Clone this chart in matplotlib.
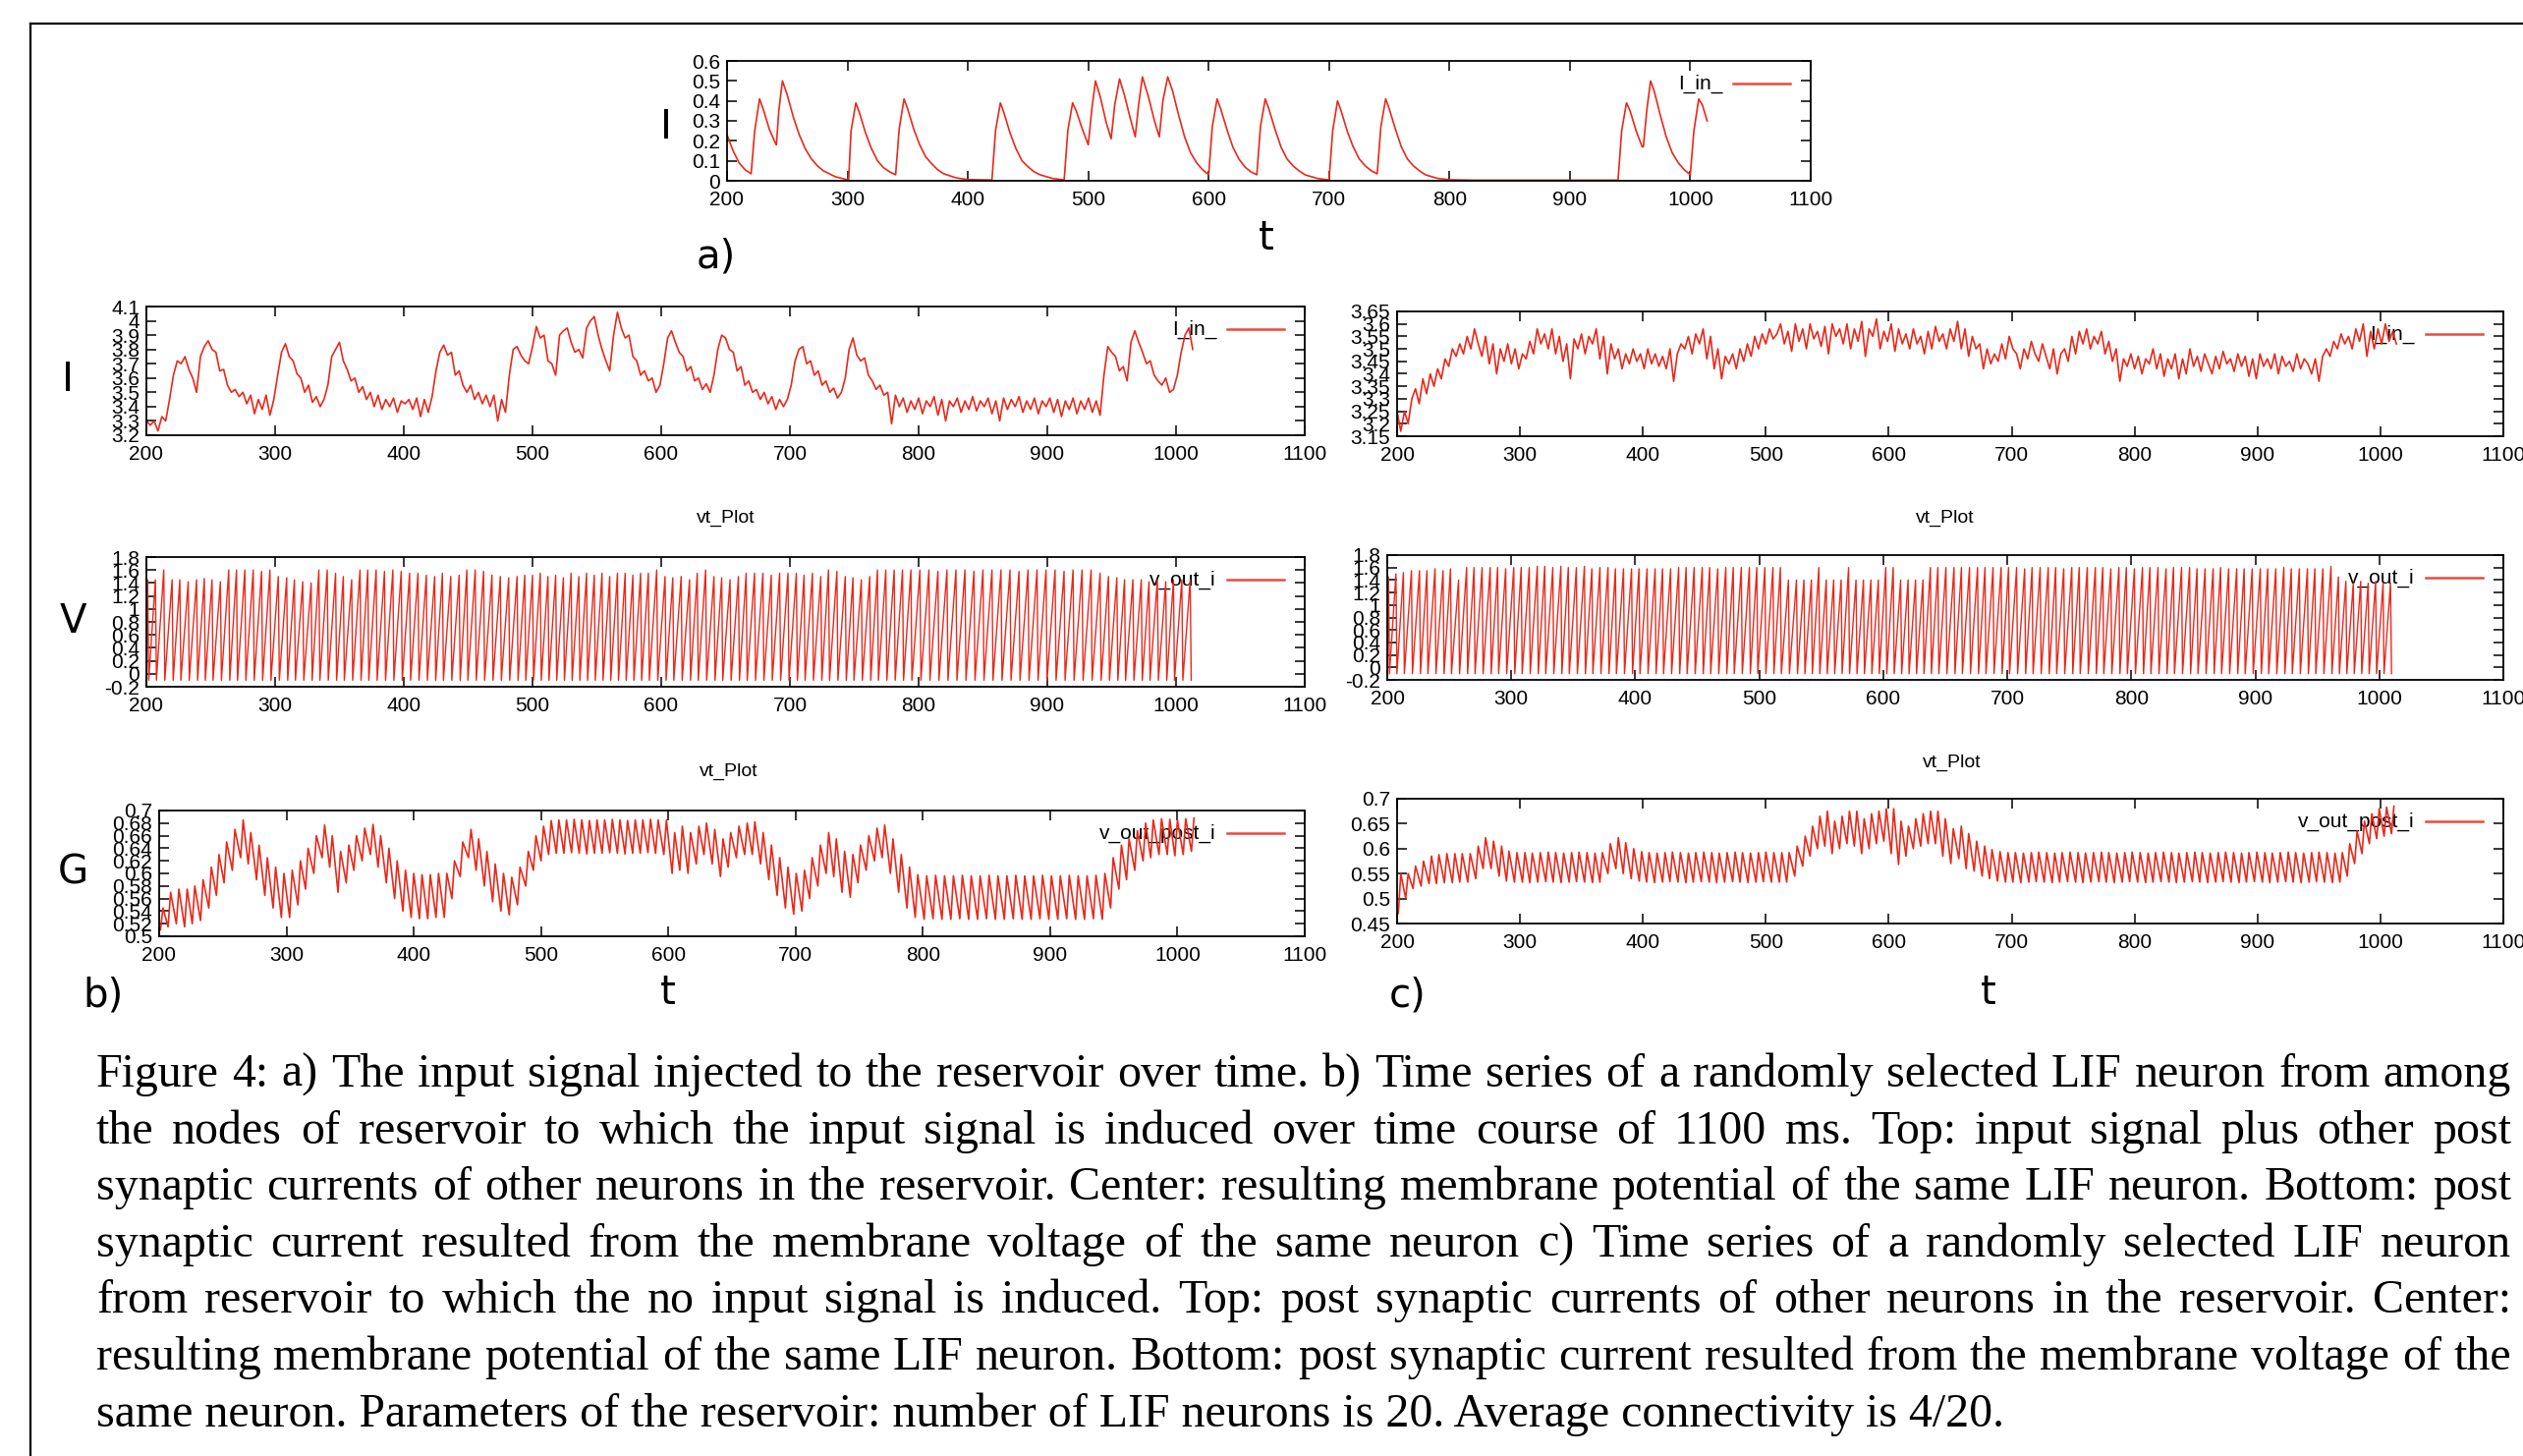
import matplotlib
matplotlib.use("Agg")
import matplotlib.pyplot as plt
from matplotlib.lines import Line2D
from matplotlib.ticker import FuncFormatter

W, H = 2568, 1482
RED = "#e8291c"
SANS = ["Liberation Sans", "DejaVu Sans"]
SERIF = ["Liberation Serif", "DejaVu Serif"]

# ---------------------------------------------------------------- data
XTICKS = [200, 300, 400, 500, 600, 700, 800, 900, 1000, 1100]

# a) injected input current, vertices (t, I)
IN_T = [200, 205, 210, 215, 220, 223, 227, 230, 235, 240, 241, 243, 246, 250, 255, 260, 265, 270, 275, 280,
        290, 300, 301, 303, 307, 310, 315, 320, 325, 330, 335, 340, 343, 347, 350, 355, 360, 365, 370, 375,
        380, 390, 400, 420, 423, 427, 430, 435, 440, 445, 450, 455, 460, 470, 480, 483, 487, 490, 495, 500,
        503, 506, 510, 515, 519, 522, 526, 530, 535, 539, 542, 545, 550, 555, 559, 562, 566, 570, 575, 580,
        585, 590, 595, 600, 603, 607, 610, 615, 620, 625, 630, 635, 640, 643, 647, 650, 655, 660, 665, 670,
        675, 680, 690, 700, 703, 707, 710, 715, 720, 725, 730, 735, 740, 743, 747, 750, 755, 760, 765, 770,
        775, 780, 790, 800, 820, 940, 943, 947, 950, 955, 960, 961, 964, 967, 970, 975, 980, 985, 990, 995,
        1000, 1003, 1007, 1010, 1014]
IN_V = [0.23, 0.15, 0.09, 0.055, 0.035, 0.25, 0.41, 0.36, 0.26, 0.19, 0.18, 0.35, 0.50, 0.43, 0.32, 0.23, 0.16, 0.11, 0.075, 0.05,
        0.02, 0.005, 0.005, 0.25, 0.39, 0.34, 0.24, 0.16, 0.10, 0.065, 0.045, 0.03, 0.26, 0.41, 0.36, 0.26, 0.18, 0.12, 0.085, 0.055,
        0.035, 0.015, 0.006, 0.004, 0.25, 0.39, 0.34, 0.24, 0.16, 0.10, 0.07, 0.045, 0.03, 0.012, 0.004, 0.25, 0.39, 0.35, 0.26, 0.18,
        0.36, 0.50, 0.42, 0.29, 0.21, 0.38, 0.51, 0.43, 0.31, 0.22, 0.39, 0.52, 0.42, 0.30, 0.22, 0.40, 0.52, 0.45, 0.33, 0.22,
        0.14, 0.09, 0.055, 0.03, 0.27, 0.41, 0.36, 0.26, 0.17, 0.11, 0.07, 0.045, 0.03, 0.27, 0.41, 0.36, 0.26, 0.17, 0.11, 0.075,
        0.05, 0.03, 0.012, 0.004, 0.25, 0.40, 0.35, 0.25, 0.17, 0.11, 0.075, 0.05, 0.035, 0.27, 0.41, 0.36, 0.26, 0.17, 0.11, 0.075,
        0.05, 0.03, 0.012, 0.005, 0.003, 0.003, 0.25, 0.39, 0.35, 0.25, 0.17, 0.17, 0.36, 0.50, 0.45, 0.33, 0.22, 0.14, 0.09, 0.055,
        0.03, 0.25, 0.41, 0.38, 0.30]

# total current seen by the neuron, sampled every 3 ms from t = 200
I_STEP = 3
IB = [3.30, 3.27, 3.30, 3.23, 3.33, 3.30, 3.45, 3.62, 3.72, 3.70,
      3.75, 3.66, 3.60, 3.50, 3.75, 3.82, 3.86, 3.80, 3.78, 3.65,
      3.66, 3.55, 3.50, 3.52, 3.47, 3.50, 3.42, 3.48, 3.35, 3.45,
      3.38, 3.48, 3.34, 3.45, 3.62, 3.78, 3.84, 3.75, 3.72, 3.63,
      3.60, 3.50, 3.55, 3.43, 3.47, 3.40, 3.45, 3.55, 3.75, 3.80,
      3.85, 3.72, 3.66, 3.58, 3.60, 3.50, 3.54, 3.45, 3.50, 3.40,
      3.48, 3.38, 3.45, 3.40, 3.46, 3.36, 3.44, 3.42, 3.45, 3.38,
      3.46, 3.33, 3.45, 3.36, 3.47, 3.65, 3.78, 3.83, 3.76, 3.78,
      3.62, 3.65, 3.55, 3.50, 3.55, 3.45, 3.50, 3.42, 3.48, 3.40,
      3.48, 3.30, 3.45, 3.36, 3.62, 3.80, 3.82, 3.76, 3.72, 3.70,
      3.82, 3.96, 3.88, 3.90, 3.72, 3.70, 3.62, 3.90, 3.93, 3.95,
      3.85, 3.78, 3.80, 3.74, 3.95, 4.00, 4.03, 3.90, 3.80, 3.72,
      3.65, 3.90, 4.06, 3.95, 3.88, 3.90, 3.75, 3.72, 3.62, 3.65,
      3.58, 3.60, 3.50, 3.55, 3.70, 3.88, 3.93, 3.85, 3.78, 3.75,
      3.65, 3.68, 3.58, 3.60, 3.52, 3.56, 3.50, 3.62, 3.80, 3.90,
      3.88, 3.80, 3.78, 3.65, 3.68, 3.55, 3.58, 3.50, 3.52, 3.45,
      3.50, 3.42, 3.47, 3.38, 3.45, 3.40, 3.45, 3.55, 3.72, 3.80,
      3.82, 3.70, 3.72, 3.62, 3.65, 3.55, 3.58, 3.50, 3.53, 3.46,
      3.50, 3.60, 3.80, 3.88, 3.76, 3.72, 3.74, 3.62, 3.58, 3.52,
      3.55, 3.48, 3.50, 3.28, 3.48, 3.40, 3.46, 3.36, 3.44, 3.38,
      3.46, 3.35, 3.44, 3.40, 3.47, 3.34, 3.45, 3.30, 3.44, 3.40,
      3.46, 3.36, 3.44, 3.38, 3.47, 3.37, 3.44, 3.40, 3.46, 3.35,
      3.44, 3.30, 3.46, 3.38, 3.45, 3.40, 3.47, 3.36, 3.44, 3.38,
      3.46, 3.35, 3.44, 3.40, 3.46, 3.36, 3.45, 3.33, 3.44, 3.38,
      3.46, 3.35, 3.44, 3.38, 3.46, 3.36, 3.44, 3.34, 3.62, 3.82,
      3.78, 3.75, 3.65, 3.68, 3.58, 3.85, 3.93, 3.85, 3.78, 3.70,
      3.72, 3.62, 3.58, 3.55, 3.60, 3.50, 3.52, 3.62, 3.78, 3.90,
      3.95, 3.80]
IC = [3.25, 3.17, 3.25, 3.20, 3.30, 3.34, 3.28, 3.38, 3.32, 3.40,
      3.35, 3.42, 3.38, 3.46, 3.43, 3.50, 3.47, 3.52, 3.48, 3.55,
      3.50, 3.58, 3.52, 3.47, 3.55, 3.44, 3.52, 3.40, 3.50, 3.45,
      3.52, 3.44, 3.50, 3.42, 3.48, 3.46, 3.53, 3.48, 3.58, 3.52,
      3.56, 3.50, 3.58, 3.48, 3.55, 3.45, 3.52, 3.38, 3.54, 3.50,
      3.56, 3.48, 3.55, 3.52, 3.58, 3.46, 3.55, 3.40, 3.52, 3.46,
      3.50, 3.42, 3.48, 3.44, 3.50, 3.45, 3.48, 3.42, 3.50, 3.44,
      3.48, 3.43, 3.47, 3.42, 3.50, 3.37, 3.48, 3.52, 3.50, 3.55,
      3.48, 3.56, 3.52, 3.58, 3.46, 3.55, 3.42, 3.50, 3.38, 3.47,
      3.44, 3.48, 3.42, 3.50, 3.45, 3.52, 3.47, 3.55, 3.50, 3.56,
      3.52, 3.58, 3.54, 3.56, 3.60, 3.52, 3.57, 3.49, 3.60, 3.53,
      3.58, 3.50, 3.60, 3.54, 3.57, 3.51, 3.59, 3.48, 3.60, 3.55,
      3.58, 3.52, 3.60, 3.50, 3.58, 3.53, 3.61, 3.47, 3.58, 3.55,
      3.62, 3.50, 3.57, 3.53, 3.60, 3.49, 3.58, 3.52, 3.56, 3.50,
      3.58, 3.52, 3.55, 3.48, 3.57, 3.50, 3.59, 3.53, 3.56, 3.50,
      3.58, 3.53, 3.61, 3.50, 3.58, 3.47, 3.55, 3.50, 3.52, 3.42,
      3.50, 3.44, 3.48, 3.45, 3.52, 3.46, 3.55, 3.50, 3.48, 3.42,
      3.50, 3.46, 3.53, 3.48, 3.45, 3.52, 3.47, 3.42, 3.50, 3.40,
      3.48, 3.50, 3.45, 3.55, 3.48, 3.57, 3.52, 3.58, 3.50, 3.55,
      3.52, 3.57, 3.48, 3.53, 3.45, 3.50, 3.37, 3.46, 3.43, 3.48,
      3.42, 3.47, 3.40, 3.46, 3.44, 3.50, 3.42, 3.48, 3.39, 3.46,
      3.42, 3.48, 3.38, 3.46, 3.40, 3.50, 3.43, 3.47, 3.41, 3.48,
      3.44, 3.40, 3.47, 3.42, 3.49, 3.44, 3.46, 3.41, 3.48, 3.43,
      3.47, 3.39, 3.46, 3.38, 3.48, 3.43, 3.46, 3.42, 3.48, 3.40,
      3.47, 3.43, 3.45, 3.41, 3.48, 3.42, 3.46, 3.44, 3.40, 3.46,
      3.37, 3.47, 3.50, 3.47, 3.53, 3.50, 3.56, 3.52, 3.55, 3.50,
      3.58, 3.53, 3.60, 3.47, 3.57, 3.50, 3.58, 3.52, 3.60, 3.53,
      3.57, 3.52]

# spike times of the neuron in b) and c)
SPK_B = [201, 207, 213.5, 220, 226, 232.5, 239, 245, 251, 257.5, 264, 270, 276.5, 283, 289.5, 296,
         302.5, 309, 315, 321.5, 328, 334, 340.5, 347, 353, 359.5, 366, 372, 378.5, 385, 391.5, 398,
         404.5, 411, 417.5, 424, 430, 436.5, 443, 449, 455.5, 462, 468.5, 475, 481.5, 488, 494,
         500, 506, 512, 518, 524, 530, 536, 542, 548, 554, 560, 566, 572, 578, 584, 590, 596.5,
         603, 609, 615.5, 622, 628, 634.5, 641, 647, 653.5, 660, 666, 672.5, 679, 685.5, 692, 698.5,
         705, 711, 717.5, 724, 730, 736.5, 743, 749, 755.5, 762, 768, 774.5, 781, 787.5, 794,
         801, 808, 815, 822, 829, 836, 843, 850, 857, 864, 871, 878, 885, 892, 899, 906, 913, 920, 927, 934,
         941, 947.5, 954, 960, 966.5, 973, 979, 985.5, 992, 998, 1004.5, 1011]
VPK_B = [1.45, 1.45, 1.60, 1.45, 1.45, 1.42, 1.45, 1.47, 1.45, 1.42, 1.60, 1.60, 1.60, 1.60, 1.58, 1.60,
         1.50, 1.48, 1.45, 1.42, 1.40, 1.60, 1.60, 1.55, 1.50, 1.45, 1.60, 1.60, 1.60, 1.58, 1.60, 1.58,
         1.55, 1.55, 1.52, 1.50, 1.55, 1.50, 1.52, 1.60, 1.60, 1.58, 1.52, 1.50, 1.48, 1.50, 1.52,
         1.52, 1.55, 1.50, 1.52, 1.48, 1.55, 1.50, 1.55, 1.52, 1.55, 1.50, 1.55, 1.55, 1.52, 1.55, 1.55, 1.60,
         1.50, 1.48, 1.50, 1.45, 1.55, 1.60, 1.50, 1.48, 1.45, 1.50, 1.55, 1.55, 1.55, 1.52, 1.55, 1.55,
         1.55, 1.52, 1.55, 1.50, 1.60, 1.58, 1.50, 1.48, 1.45, 1.50, 1.60, 1.60, 1.60, 1.60, 1.60,
         1.60, 1.60, 1.58, 1.60, 1.60, 1.60, 1.58, 1.60, 1.60, 1.60, 1.60, 1.58, 1.60, 1.60, 1.60, 1.60, 1.58, 1.60, 1.60, 1.60,
         1.55, 1.50, 1.48, 1.45, 1.45, 1.45, 1.42, 1.45, 1.42, 1.45, 1.45, 1.45]
GLO_B = [0.51, 0.515, 0.52, 0.515, 0.52, 0.525, 0.545, 0.565, 0.585, 0.605, 0.625, 0.615, 0.59, 0.565, 0.545, 0.53,
         0.53, 0.55, 0.575, 0.60, 0.625, 0.61, 0.57, 0.585, 0.605, 0.62, 0.63, 0.61, 0.585, 0.56, 0.54, 0.53,
         0.528, 0.528, 0.53, 0.53, 0.56, 0.595, 0.625, 0.605, 0.58, 0.555, 0.54, 0.534, 0.55, 0.58, 0.605,
         0.62, 0.63, 0.632, 0.632, 0.633, 0.632, 0.631, 0.632, 0.632, 0.633, 0.632, 0.631, 0.632, 0.632, 0.633, 0.632, 0.63,
         0.60, 0.605, 0.60, 0.615, 0.63, 0.615, 0.595, 0.61, 0.625, 0.63, 0.63, 0.615, 0.59, 0.565, 0.545, 0.535,
         0.54, 0.56, 0.58, 0.60, 0.595, 0.57, 0.562, 0.585, 0.605, 0.62, 0.625, 0.60, 0.57, 0.545, 0.53,
         0.527, 0.528, 0.527, 0.527, 0.528, 0.527, 0.527, 0.528, 0.527, 0.527, 0.528, 0.527, 0.527, 0.528, 0.527, 0.527, 0.528, 0.527, 0.527, 0.528,
         0.527, 0.545, 0.575, 0.59, 0.605, 0.62, 0.625, 0.63, 0.63, 0.628, 0.63, 0.635]
GHI_B = [0.545, 0.57, 0.575, 0.575, 0.58, 0.59, 0.61, 0.63, 0.65, 0.67, 0.685, 0.665, 0.645, 0.625, 0.61, 0.60,
         0.605, 0.62, 0.64, 0.66, 0.677, 0.66, 0.635, 0.645, 0.66, 0.672, 0.678, 0.66, 0.64, 0.62, 0.605, 0.60,
         0.598, 0.598, 0.60, 0.60, 0.62, 0.65, 0.67, 0.655, 0.635, 0.615, 0.60, 0.594, 0.61, 0.635, 0.66,
         0.675, 0.684, 0.685, 0.685, 0.686, 0.685, 0.684, 0.685, 0.685, 0.686, 0.685, 0.684, 0.685, 0.685, 0.686, 0.685, 0.685,
         0.665, 0.675, 0.665, 0.675, 0.68, 0.67, 0.655, 0.665, 0.675, 0.68, 0.682, 0.665, 0.645, 0.625, 0.61, 0.60,
         0.605, 0.625, 0.645, 0.665, 0.655, 0.635, 0.63, 0.645, 0.66, 0.672, 0.677, 0.655, 0.63, 0.61, 0.598,
         0.596, 0.597, 0.596, 0.596, 0.597, 0.596, 0.596, 0.597, 0.596, 0.596, 0.597, 0.596, 0.596, 0.597, 0.596, 0.596, 0.597, 0.596, 0.596, 0.597,
         0.60, 0.625, 0.645, 0.655, 0.668, 0.68, 0.685, 0.687, 0.686, 0.685, 0.687, 0.688]

SPK_C = [201, 207, 213, 219.5, 226, 232, 238.5, 245, 251, 257.5, 264, 270, 276.5, 283, 289, 295.5,
         302, 308, 314.5, 321, 327, 333.5, 340, 346, 352.5, 359, 365, 371.5, 378, 384, 390.5, 397,
         403, 409.5, 416, 422, 428.5, 435, 441, 447.5, 454, 460, 466.5, 473, 479, 485.5, 492, 498,
         504.5, 511, 517, 523.5, 530, 536, 542, 548, 554, 560, 566, 572, 578, 584, 590, 596,
         602, 608, 614, 620, 626, 632, 638, 644, 650.5, 657, 663, 669.5, 676, 682, 688.5, 695,
         701, 707.5, 714, 720, 726.5, 733, 739, 745.5, 752, 758, 764.5, 771, 777, 783.5, 790, 796,
         802.5, 809, 815, 821.5, 828, 834, 840.5, 847, 853, 859.5, 866, 872, 878.5, 885, 891, 897.5,
         904, 910, 916.5, 923, 929, 935.5, 942, 948, 954.5, 961, 967, 973, 979, 985, 991, 997, 1003, 1009]
VPK_C = [1.45, 1.50, 1.52, 1.55, 1.55, 1.55, 1.58, 1.55, 1.58, 1.40, 1.60, 1.60, 1.60, 1.60, 1.60, 1.58,
         1.60, 1.60, 1.60, 1.62, 1.62, 1.60, 1.62, 1.60, 1.60, 1.62, 1.58, 1.60, 1.60, 1.58, 1.58, 1.58,
         1.58, 1.58, 1.58, 1.58, 1.58, 1.60, 1.60, 1.60, 1.60, 1.60, 1.58, 1.60, 1.60, 1.60, 1.60, 1.60,
         1.60, 1.60, 1.60, 1.40, 1.40, 1.40, 1.40, 1.60, 1.40, 1.40, 1.40, 1.60, 1.40, 1.40, 1.40, 1.40,
         1.60, 1.60, 1.40, 1.40, 1.40, 1.40, 1.60, 1.60, 1.60, 1.60, 1.60, 1.60, 1.60, 1.60, 1.60, 1.60,
         1.60, 1.60, 1.58, 1.60, 1.60, 1.60, 1.60, 1.58, 1.60, 1.60, 1.60, 1.60, 1.60, 1.58, 1.60, 1.60,
         1.58, 1.60, 1.60, 1.60, 1.58, 1.60, 1.60, 1.60, 1.58, 1.58, 1.58, 1.60, 1.58, 1.58, 1.58, 1.58,
         1.58, 1.58, 1.58, 1.60, 1.58, 1.58, 1.58, 1.58, 1.58, 1.62, 1.45, 1.38, 1.35, 1.38, 1.35, 1.38, 1.35, 1.35]
GLO_C = [0.47, 0.50, 0.52, 0.525, 0.53, 0.53, 0.532, 0.532, 0.533, 0.533, 0.54, 0.56, 0.56, 0.545, 0.535, 0.533,
         0.533, 0.532, 0.533, 0.534, 0.533, 0.532, 0.533, 0.534, 0.533, 0.532, 0.533, 0.55, 0.56, 0.55, 0.54, 0.535,
         0.533, 0.532, 0.533, 0.534, 0.533, 0.532, 0.533, 0.534, 0.533, 0.532, 0.533, 0.534, 0.533, 0.532, 0.533, 0.534,
         0.533, 0.533, 0.533, 0.545, 0.565, 0.585, 0.60, 0.605, 0.59, 0.60, 0.61, 0.605, 0.59, 0.60, 0.61, 0.615,
         0.59, 0.568, 0.585, 0.60, 0.605, 0.61, 0.61, 0.585, 0.57, 0.58, 0.56, 0.555, 0.545, 0.54, 0.535, 0.533,
         0.533, 0.532, 0.533, 0.534, 0.533, 0.532, 0.533, 0.534, 0.533, 0.532, 0.533, 0.534, 0.533, 0.532, 0.533, 0.534,
         0.533, 0.532, 0.533, 0.534, 0.533, 0.532, 0.533, 0.534, 0.533, 0.532, 0.533, 0.534, 0.533, 0.532, 0.533, 0.534,
         0.533, 0.532, 0.533, 0.534, 0.533, 0.532, 0.533, 0.534, 0.533, 0.532, 0.533, 0.545, 0.57, 0.59, 0.61, 0.62, 0.625, 0.63]
GHI_C = [0.55, 0.55, 0.565, 0.575, 0.585, 0.588, 0.59, 0.59, 0.59, 0.59, 0.605, 0.622, 0.615, 0.605, 0.595, 0.592,
         0.592, 0.591, 0.592, 0.593, 0.592, 0.591, 0.592, 0.593, 0.592, 0.591, 0.592, 0.61, 0.622, 0.612, 0.60, 0.594,
         0.592, 0.591, 0.592, 0.593, 0.592, 0.591, 0.592, 0.593, 0.592, 0.591, 0.592, 0.593, 0.592, 0.591, 0.592, 0.593,
         0.592, 0.592, 0.592, 0.605, 0.625, 0.645, 0.665, 0.675, 0.655, 0.665, 0.675, 0.675, 0.66, 0.67, 0.675, 0.68,
         0.68, 0.655, 0.645, 0.66, 0.67, 0.675, 0.675, 0.66, 0.64, 0.645, 0.63, 0.615, 0.605, 0.598, 0.594, 0.592,
         0.592, 0.591, 0.592, 0.593, 0.592, 0.591, 0.592, 0.593, 0.592, 0.591, 0.592, 0.593, 0.592, 0.591, 0.592, 0.593,
         0.592, 0.591, 0.592, 0.593, 0.592, 0.591, 0.592, 0.593, 0.592, 0.591, 0.592, 0.593, 0.592, 0.591, 0.592, 0.593,
         0.592, 0.591, 0.592, 0.593, 0.592, 0.591, 0.592, 0.593, 0.592, 0.591, 0.592, 0.61, 0.635, 0.655, 0.67, 0.68, 0.683, 0.685]

V_RESET = -0.1   # membrane potential right after a spike
V_DROP = 0.8     # ms from spike peak to reset
G_RISE = 2.0     # ms from spike to synaptic current peak

YT_A = [0, 0.1, 0.2, 0.3, 0.4, 0.5, 0.6]
YT_IB = [3.2, 3.3, 3.4, 3.5, 3.6, 3.7, 3.8, 3.9, 4.0, 4.1]
YT_IC = [3.15, 3.2, 3.25, 3.3, 3.35, 3.4, 3.45, 3.5, 3.55, 3.6, 3.65]
YT_V = [-0.2, 0, 0.2, 0.4, 0.6, 0.8, 1.0, 1.2, 1.4, 1.6, 1.8]
YT_GB = [0.5, 0.52, 0.54, 0.56, 0.58, 0.6, 0.62, 0.64, 0.66, 0.68, 0.7]
YT_GC = [0.45, 0.5, 0.55, 0.6, 0.65, 0.7]

CAPTION = [
    "Figure 4: a) The input signal injected to the reservoir over time. b) Time series of a randomly selected LIF neuron from among",
    "the nodes of reservoir to which the input signal is induced over time course of 1100 ms. Top: input signal plus other post",
    "synaptic currents of other neurons in the reservoir. Center: resulting membrane potential of the same LIF neuron. Bottom: post",
    "synaptic current resulted from the membrane voltage of the same neuron  c) Time series of a randomly selected LIF neuron",
    "from reservoir to which the no input signal is induced. Top: post synaptic currents of other neurons in the reservoir. Center:",
    "resulting membrane potential of the same LIF neuron. Bottom: post synaptic current resulted from the membrane voltage of the",
    "same neuron. Parameters of the reservoir: number of LIF neurons is 20. Average connectivity is 4/20.",
]

TICK_FS = 15
LINE_W = 1.2
CAP_FS = 34.5


# ---------------------------------------------------------------- helpers
def spike_trace(times, peaks):
    xs, ys = [200], [V_RESET]
    for t, p in zip(times, peaks):
        xs += [t, t + V_DROP]
        ys += [p, V_RESET]
    return xs, ys


def syn_trace(times, lo, hi):
    xs, ys = [200], [lo[0]]
    for t, a, b in zip(times, lo, hi):
        xs += [t, t + G_RISE]
        ys += [a, b]
    return xs, ys


def sampled(vals):
    return [200 + I_STEP * i for i in range(len(vals))], vals


fig = plt.figure(figsize=(W / 100, H / 100), dpi=100)


def gp_axes(box, ylim, yticks, label):
    """gnuplot-looking panel placed by pixel box (x0, y0, x1, y1)."""
    x0, y0, x1, y1 = box
    ax = fig.add_axes([x0 / W, 1 - y1 / H, (x1 - x0) / W, (y1 - y0) / H])
    ax.set_xlim(200, 1100)
    ax.set_ylim(*ylim)
    ax.set_xticks(XTICKS)
    ax.set_yticks(yticks)
    fmt = FuncFormatter(lambda v, p: "%g" % round(v, 4))
    ax.xaxis.set_major_formatter(fmt)
    ax.yaxis.set_major_formatter(fmt)
    ax.tick_params(direction="in", top=True, right=True, length=7, width=1.1,
                   labelsize=TICK_FS, pad=5)
    ax.tick_params(axis="x", pad=7)
    for lab in ax.get_xticklabels() + ax.get_yticklabels():
        lab.set_family(SANS)
    for s in ax.spines.values():
        s.set_linewidth(1.3)
    w, h = x1 - x0, y1 - y0
    yk = 1 - 23 / h
    ax.plot([1 - 79 / w, 1 - 21 / w], [yk, yk], transform=ax.transAxes,
            color=RED, lw=1.8, alpha=0.85, zorder=1)
    ax.text(1 - 90 / w, yk, label, transform=ax.transAxes, ha="right",
            va="center", fontsize=TICK_FS, family=SANS, zorder=1)
    return ax


def fig_text(x, y, s, size, **kw):
    fig.text(x / W, 1 - y / H, s, ha="center", va="center", fontsize=size, **kw)


# ---------------------------------------------------------------- panels
ax = gp_axes((740, 62, 1843, 184), (0, 0.6), YT_A, "I_in_")
ax.plot(IN_T, IN_V, color=RED, lw=LINE_W, zorder=2)

ax = gp_axes((149, 312, 1328, 443), (3.2, 4.1), YT_IB, "I_in_")
ax.plot(*sampled(IB), color=RED, lw=LINE_W, zorder=2)

ax = gp_axes((1422, 317, 2548, 444), (3.15, 3.65), YT_IC, "I_in_")
ax.plot(*sampled(IC), color=RED, lw=LINE_W, zorder=2)

ax = gp_axes((149, 567, 1328, 699), (-0.2, 1.8), YT_V, "v_out_i")
ax.plot(*spike_trace(SPK_B, VPK_B), color=RED, lw=1.0, zorder=2)

ax = gp_axes((1412, 565, 2548, 692), (-0.2, 1.8), YT_V, "v_out_i")
ax.plot(*spike_trace(SPK_C, VPK_C), color=RED, lw=1.0, zorder=2)

ax = gp_axes((162, 825, 1328, 953), (0.5, 0.7), YT_GB, "v_out_post_i")
ax.plot(*syn_trace(SPK_B, GLO_B, GHI_B), color=RED, lw=LINE_W, zorder=2)

ax = gp_axes((1422, 813, 2548, 940), (0.45, 0.7), YT_GC, "v_out_post_i")
ax.plot(*syn_trace(SPK_C, GLO_C, GHI_C), color=RED, lw=LINE_W, zorder=2)

# titles and hand-placed labels
for x, y in [(739, 527), (1980, 527), (742, 785), (1987, 776)]:
    fig_text(x, y, "vt_Plot", 14, family=SANS)

BIG = 29
fig_text(678, 130, "I", BIG)
fig_text(1289, 243, "t", BIG)
fig_text(729, 262, "a)", BIG)
fig_text(69, 387, "I", BIG)
fig_text(74, 633, "V", BIG)
fig_text(74, 888, "G", BIG)
fig_text(105, 1013, "b)", BIG)
fig_text(680, 1011, "t", BIG)
fig_text(1433, 1013, "c)", BIG)
fig_text(2024, 1011, "t", BIG)

# page frame
fig.add_artist(Line2D([31 / W, 31 / W], [0, 1 - 24 / H], color="black", lw=1.6))
fig.add_artist(Line2D([31 / W, 1], [1 - 24 / H, 1 - 24 / H], color="black", lw=1.6))

# ---------------------------------------------------------------- caption (justified)
CAP_L, CAP_R = 98, 2556
CAP_BASE, CAP_STEP = 1106, 57.6
renderer = fig.canvas.get_renderer()


def text_width(s, size):
    t = fig.text(0, 0, s, fontsize=size, family=SERIF)
    w = t.get_window_extent(renderer).width
    t.remove()
    return w


for i, line in enumerate(CAPTION):
    yb = 1 - (CAP_BASE + CAP_STEP * i) / H
    if i == len(CAPTION) - 1:
        fig.text(CAP_L / W, yb, line, fontsize=CAP_FS, family=SERIF,
                 ha="left", va="baseline")
        continue
    words = line.split()
    widths = [text_width(wd, CAP_FS) for wd in words]
    gap = (CAP_R - CAP_L - sum(widths)) / (len(words) - 1)
    x = CAP_L
    for wd, wdw in zip(words, widths):
        fig.text(x / W, yb, wd, fontsize=CAP_FS, family=SERIF,
                 ha="left", va="baseline")
        x += wdw + gap

fig.savefig("out.png", dpi=100)
